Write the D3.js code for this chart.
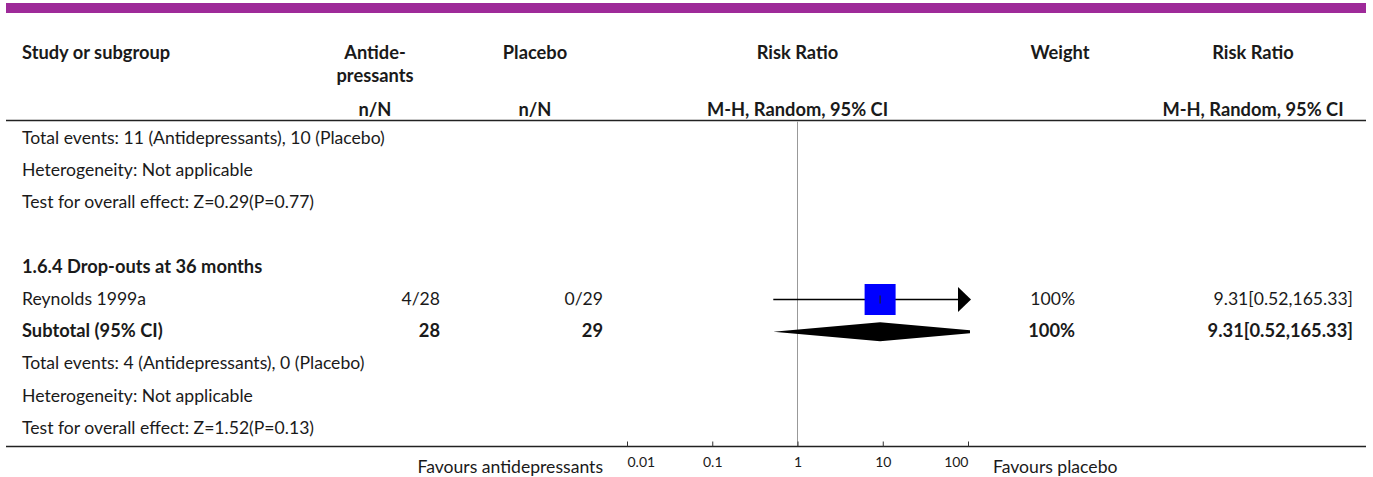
<!DOCTYPE html>
<html>
<head>
<meta charset="utf-8">
<script src="https://cdn.jsdelivr.net/npm/d3@7/dist/d3.min.js"></script>
<style>
  html, body { margin: 0; padding: 0; background: #fff; }
  svg { display: block; }
  text { font-family: Lato, "Open Sans", sans-serif; fill: #1a1a1a; }
</style>
</head>
<body>
<svg id="chart" width="1373" height="477"></svg>
<script>
// ---- data ----
const headerTop = ["Study or subgroup", "Antide-|pressants", "Placebo", "Risk Ratio", "Weight", "Risk Ratio"];
const headerSub = ["", "n/N", "n/N", "M-H, Random, 95% CI", "", "M-H, Random, 95% CI"];

// rows of the table, in display order
const rowKinds  = ["note", "note", "note", "blank", "group", "study", "subtotal", "note", "note", "note"];
const rowLabels = [
  "Total events: 11 (Antidepressants), 10 (Placebo)",
  "Heterogeneity: Not applicable",
  "Test for overall effect: Z=0.29(P=0.77)",
  "",
  "1.6.4 Drop-outs at 36 months",
  "Reynolds 1999a",
  "Subtotal (95% CI)",
  "Total events: 4 (Antidepressants), 0 (Placebo)",
  "Heterogeneity: Not applicable",
  "Test for overall effect: Z=1.52(P=0.13)"
];
const rowTreat   = [null, null, null, null, null, "4/28", "28", null, null, null];
const rowControl = [null, null, null, null, null, "0/29", "29", null, null, null];
const rowRR      = [null, null, null, null, null, 9.31, 9.31, null, null, null];
const rowLower   = [null, null, null, null, null, 0.52, 0.52, null, null, null];
const rowUpper   = [null, null, null, null, null, 165.33, 165.33, null, null, null];
const rowWeight  = [null, null, null, null, null, 100, 100, null, null, null];

const axisTicks = [0.01, 0.1, 1, 10, 100];
const favoursLeft = "Favours antidepressants";
const favoursRight = "Favours placebo";

// ---- layout ----
const svg = d3.select("#chart");
const left = 6, right = 1366;
const colStudy = 22;
const colTreatC = 375, colTreatR = 440;
const colCtrlC = 535, colCtrlR = 603;
const colWeightC = 1060, colWeightR = 1075;
const colRRC = 1253, colRRR = 1353;
const plotL = 627, plotR = 968;
const headLineY = 120.5;
const axisY = 446.5;
const rowY0 = 138, rowStep = 32.2;
const fsBody = 17.6, fsBold = 18.3, fsTick = 14;

const x = d3.scaleLog().domain([0.01, 100]).range([plotL, plotR]);
const y = i => rowY0 + i * rowStep;

const fmt2 = d3.format(".2f");
const rrText = i => `${fmt2(rowRR[i])}[${fmt2(rowLower[i])},${fmt2(rowUpper[i])}]`;

// top band
svg.append("rect").attr("x", left).attr("y", 3).attr("width", right - left).attr("height", 10)
  .attr("fill", "#9e2a99");

// header
const hdr = svg.append("g").attr("font-weight", "bold").attr("font-size", fsBold);
const hdrX = [colStudy, colTreatC, colCtrlC, x(1), colWeightC, colRRC];
headerTop.forEach((t, k) => {
  const lines = t.split("|");
  lines.forEach((ln, j) => {
    hdr.append("text")
      .attr("x", hdrX[k]).attr("y", 59 + j * 22.5)
      .attr("text-anchor", k === 0 ? "start" : "middle")
      .text(ln);
  });
});
headerSub.forEach((t, k) => {
  if (!t) return;
  hdr.append("text").attr("x", hdrX[k]).attr("y", 116)
    .attr("text-anchor", "middle").text(t);
});

svg.append("line").attr("x1", left).attr("x2", right)
  .attr("y1", headLineY).attr("y2", headLineY)
  .attr("stroke", "#222").attr("stroke-width", 1.5);

// line of no effect
svg.append("line").attr("x1", x(1)).attr("x2", x(1))
  .attr("y1", headLineY + 1).attr("y2", axisY)
  .attr("stroke", "#999").attr("stroke-width", 1);

// table rows
const body = svg.append("g").attr("font-size", fsBody);
rowLabels.forEach((lab, i) => {
  const kind = rowKinds[i];
  if (kind === "blank") return;
  const bold = kind === "group" || kind === "subtotal";
  const by = y(i) + 6;
  const g = body.append("g").attr("font-weight", bold ? "bold" : "normal")
    .attr("font-size", bold ? fsBold : fsBody);
  g.append("text").attr("x", colStudy).attr("y", by).text(lab);
  if (rowTreat[i] !== null) {
    g.append("text").attr("x", colTreatR).attr("y", by).attr("text-anchor", "end").text(rowTreat[i]);
    g.append("text").attr("x", colCtrlR).attr("y", by).attr("text-anchor", "end").text(rowControl[i]);
  }
  if (rowWeight[i] !== null) {
    g.append("text").attr("x", colWeightR).attr("y", by).attr("text-anchor", "end").text(rowWeight[i] + "%");
    g.append("text").attr("x", colRRR).attr("y", by).attr("text-anchor", "end").text(rrText(i));
  }
});

// forest marks
const [dMin, dMax] = x.domain();
rowKinds.forEach((kind, i) => {
  if (rowRR[i] === null) return;
  const cy = y(i) + 0.5;
  const xl = x(Math.max(rowLower[i], dMin));
  const xe = x(rowRR[i]);
  if (kind === "study") {
    const clippedHi = rowUpper[i] > dMax;
    const arrowLen = 13, arrowHalf = 12.5;
    const xh = clippedHi ? x(dMax) + 3 - arrowLen : x(rowUpper[i]);
    svg.append("line").attr("x1", xl).attr("x2", xh).attr("y1", cy).attr("y2", cy)
      .attr("stroke", "#000").attr("stroke-width", 1.5);
    if (clippedHi) {
      svg.append("path")
        .attr("d", `M${xh},${cy - arrowHalf}L${xh + arrowLen},${cy}L${xh},${cy + arrowHalf}Z`)
        .attr("fill", "#000");
    }
    const side = 31 * Math.sqrt(rowWeight[i] / 100);
    svg.append("rect").attr("x", xe - side / 2).attr("y", cy - side / 2)
      .attr("width", side).attr("height", side).attr("fill", "#0000ff");
    svg.append("line").attr("x1", xe).attr("x2", xe).attr("y1", cy - 4).attr("y2", cy + 4)
      .attr("stroke", "#222").attr("stroke-width", 1.2);
  } else if (kind === "subtotal") {
    const half = 9.5;
    const xuRaw = x(rowUpper[i]);
    const xu = Math.min(xuRaw, x(dMax) + 2);
    const hu = xuRaw > xu ? half * (xuRaw - xu) / (xuRaw - xe) : 0;
    svg.append("path")
      .attr("d", `M${xl},${cy}L${xe},${cy - half}L${xu},${cy - hu}L${xu},${cy + hu}L${xe},${cy + half}Z`)
      .attr("fill", "#000");
  }
});

// bottom rule and log axis
svg.append("line").attr("x1", left).attr("x2", right).attr("y1", axisY).attr("y2", axisY)
  .attr("stroke", "#222").attr("stroke-width", 1.5);

const axis = d3.axisBottom(x).tickValues(axisTicks).tickSize(-5).tickPadding(11)
  .tickFormat(d => String(d));
const ax = svg.append("g").attr("transform", `translate(0,${axisY})`).call(axis);
ax.select(".domain").remove();
ax.selectAll(".tick line").attr("stroke", "#333");
const lastTick = axisTicks.length - 1;
ax.selectAll(".tick text")
  .attr("font-size", fsTick).attr("font-family", "Lato, sans-serif").attr("fill", "#222")
  .attr("text-anchor", (d, k) => k === 0 ? "start" : (k === lastTick ? "end" : "middle"));

svg.append("text").attr("x", colCtrlR).attr("y", axisY + 26).attr("text-anchor", "end")
  .attr("font-size", fsBody).text(favoursLeft);
svg.append("text").attr("x", 993).attr("y", axisY + 26).attr("text-anchor", "start")
  .attr("font-size", fsBody).text(favoursRight);
</script>
</body>
</html>
